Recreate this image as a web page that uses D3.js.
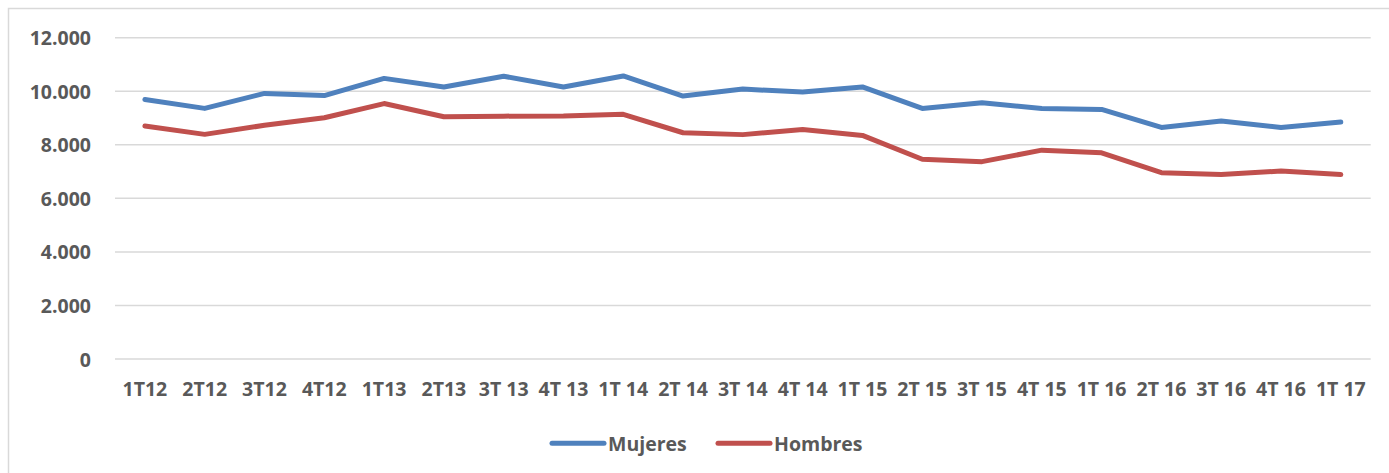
<!DOCTYPE html>
<html><head><meta charset="utf-8">
<script src="https://cdn.jsdelivr.net/npm/d3@7"></script>
<style>
html,body{margin:0;padding:0;background:#fff;}
svg{display:block;font-family:"Open Sans",Lato,sans-serif;font-weight:bold;}
</style></head>
<body>
<script>
const categories = ["1T12","2T12","3T12","4T12","1T13","2T13","3T 13","4T 13","1T 14","2T 14","3T 14","4T 14","1T 15","2T 15","3T 15","4T 15","1T 16","2T 16","3T 16","4T 16","1T 17"];
const mujeres = [9690,9360,9920,9840,10480,10160,10560,10160,10570,9820,10080,9970,10160,9360,9570,9360,9320,8650,8890,8650,8850];
const hombres = [8700,8390,8730,9010,9540,9050,9070,9080,9140,8450,8380,8570,8350,7460,7370,7800,7700,6960,6890,7020,6890];
const yTicks = [0,2000,4000,6000,8000,10000,12000];
const seriesNames = ["Mujeres","Hombres"];
const colors = ["#4F81BD","#C0504D"];

const W = 1389, H = 473;
const FONT = "'Open Sans'";
const svg = d3.select("body").append("svg").attr("width", W).attr("height", H);

// outer border (only left and top visible)
svg.append("rect").attr("x", 8.5).attr("y", 8.5).attr("width", W + 20).attr("height", H + 20)
  .attr("fill", "none").attr("stroke", "#D9D9D9").attr("stroke-width", 1.5);

const x = d3.scaleBand().domain(categories).range([115, 1370.7]);
const y = d3.scaleLinear().domain([0, 12000]).range([359, 37.7]);

// gridlines
svg.append("g").selectAll("line").data(yTicks).join("line")
  .attr("x1", 115).attr("x2", 1370.7)
  .attr("y1", d => y(d)).attr("y2", d => y(d))
  .attr("stroke", "#D9D9D9").attr("stroke-width", 1.5);

// y axis labels
const yAxis = d3.axisLeft(y).tickValues(yTicks).tickSize(0).tickPadding(0)
  .tickFormat(d => d3.format(",")(d).replace(/,/g, "."));
const gy = svg.append("g").attr("transform", "translate(91,0)").call(yAxis);
gy.select(".domain").remove();
gy.selectAll("text").attr("font-size", 19.5).attr("fill", "#595959")
  .attr("font-family", FONT).attr("font-weight", "bold").attr("dy", "0.36em");

// x axis labels
const xAxis = d3.axisBottom(x).tickSize(0).tickPadding(0);
const gx = svg.append("g").attr("transform", "translate(0,381)").call(xAxis);
gx.select(".domain").remove();
gx.selectAll("text").attr("font-size", 19.5).attr("fill", "#595959")
  .attr("font-family", FONT).attr("font-weight", "bold").attr("dy", "0.76em");

// lines
const line = d3.line().x((d, i) => x(categories[i]) + x.bandwidth() / 2).y(d => y(d));
[mujeres, hombres].forEach((s, k) => {
  svg.append("path").datum(s).attr("d", line)
    .attr("fill", "none").attr("stroke", colors[k]).attr("stroke-width", 5)
    .attr("stroke-linejoin", "round").attr("stroke-linecap", "round");
});

// legend
const legend = [{x1: 552, x2: 604, tx: 608}, {x1: 718, x2: 770, tx: 774}];
legend.forEach((l, k) => {
  svg.append("line").attr("x1", l.x1).attr("x2", l.x2).attr("y1", 443.3).attr("y2", 443.3)
    .attr("stroke", colors[k]).attr("stroke-width", 5).attr("stroke-linecap", "round");
  svg.append("text").attr("x", l.tx).attr("y", 450.5).text(seriesNames[k])
    .attr("font-size", 19.5).attr("fill", "#595959").attr("font-family", FONT);
});
</script>
</body></html>
